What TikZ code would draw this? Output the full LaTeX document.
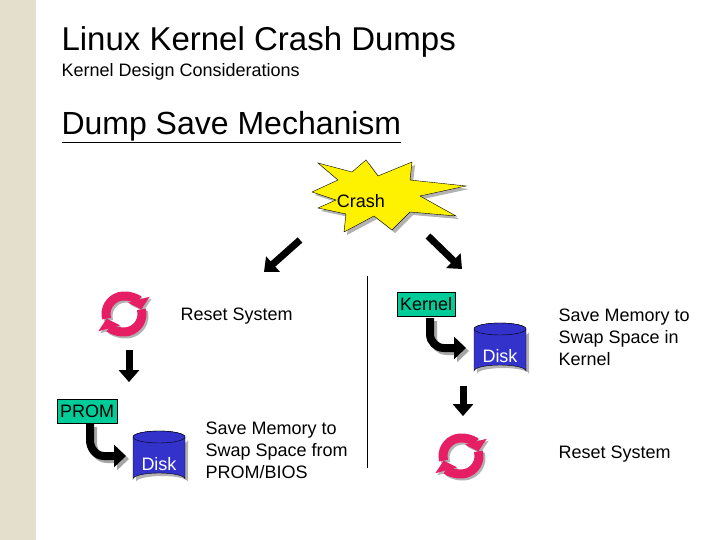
\documentclass[tikz,border=0pt]{standalone}
\usepackage{fontspec}
\setmainfont{Liberation Sans}
\usetikzlibrary{arrows.meta,shapes.geometric}
\definecolor{boxg}{RGB}{0,204,153}
\definecolor{diskb}{RGB}{51,51,204}
\definecolor{cyc}{RGB}{230,30,100}
\definecolor{strip}{RGB}{228,222,204}
\tikzset{
 lbl/.style={anchor=west,font=\fontsize{18}{22}\selectfont,align=left},
 gbox/.style={draw=black,fill=boxg,font=\fontsize{18}{21}\selectfont,inner sep=3pt,minimum height=24pt},
 fat/.style={line width=7pt,-{Triangle[length=12pt,width=20pt]}},
 shad/.style={gray!70},
}
\newcommand{\cyclepic}[2]{%
 \begin{scope}[shift={(#1,#2)}]
  \draw[gray!60,line width=9pt,-{Triangle[length=10pt,width=22pt]}] (2,2)++(165:18) arc (165:345:18);
  \draw[gray!60,line width=9pt,-{Triangle[length=10pt,width=22pt]}] (2,2)++(-15:18) arc (-15:165:18);
  \draw[cyc,line width=9pt,-{Triangle[length=10pt,width=22pt]}] (165:18) arc (165:345:18);
  \draw[cyc,line width=9pt,-{Triangle[length=10pt,width=22pt]}] (-15:18) arc (-15:165:18);
 \end{scope}}
\newcommand{\diskpic}[2]{%
 \begin{scope}[shift={(#1,#2)}]
  \fill[gray!60] (3,9) -- (3,51) arc (180:360:26 and 6) -- (55,9) arc (0:180:26 and 6) -- cycle;
  \fill[diskb,draw=black] (0,6) -- (0,48) arc (180:360:26 and 6) -- (52,6) arc (0:-180:26 and 6) -- cycle;
  \draw[black,fill=diskb] (26,6) ellipse (26 and 6);
 \end{scope}}
\begin{document}
\begin{tikzpicture}[x=1pt,y=-1pt]
\useasboundingbox (0,0) rectangle (720,540);
\fill[white] (0,0) rectangle (720,540);
\fill[strip] (0,0) rectangle (36,540);
\node[anchor=west,font=\fontsize{33}{38}\selectfont] (t) at (58,42) {Linux Kernel Crash Dumps};
\node[anchor=west,font=\fontsize{18}{21}\selectfont] (st) at (58,72) {Kernel Design Considerations};
\node[anchor=west,font=\fontsize{32}{36}\selectfont] (h) at (58,127) {\underline{Dump Save Mechanism}};
% crash
\fill[gray!60,shift={(3,3)}] (312,192) -- (338,180) -- (318,163) -- (352,172) -- (366,160) -- (378,176) -- (412,162) -- (410,180) -- (466,186) -- (420,196) -- (456,216) -- (410,212) -- (392,230) -- (374,216) -- (344,232) -- (346,214) -- (318,208) -- (336,200) -- cycle;
\draw[fill=yellow] (312,192) -- (338,180) -- (318,163) -- (352,172) -- (366,160) -- (378,176) -- (412,162) -- (410,180) -- (466,186) -- (420,196) -- (456,216) -- (410,212) -- (392,230) -- (374,216) -- (344,232) -- (346,214) -- (318,208) -- (336,200) -- cycle;
\node[font=\fontsize{18}{21}\selectfont] (crash) at (361,201) {Crash};
\coordinate (a1s) at (300,240); \coordinate (a1e) at (264,272);
\coordinate (a2s) at (428,236); \coordinate (a2e) at (462,269);
\draw[fat] (a1s) -- (a1e);
\draw[fat] (a2s) -- (a2e);
\coordinate (v1) at (367,276); \coordinate (v2) at (367,468);
\draw (v1) -- (v2);
% left
\cyclepic{124}{314}
\node[lbl] (rs1) at (177,316) {Reset System};
\coordinate (d1s) at (129,350); \coordinate (d1e) at (129,382);
\draw[shad,fat,shift={(2,2)}] (d1s) -- (d1e);
\draw[fat] (d1s) -- (d1e);
\node[gbox,anchor=north west] (prom) at (57,399) {PROM};
\draw[shad,line width=8pt,-{Triangle[length=12pt,width=22pt]},shift={(3,3)}] (90,424) -- (90,440) to[out=-90,in=180] (104,456) -- (126,456);
\draw[line width=8pt,-{Triangle[length=12pt,width=22pt]}] (90,424) -- (90,440) to[out=-90,in=180] (104,456) -- (126,456);
\diskpic{133}{431}
\node[font=\fontsize{18}{21}\selectfont,text=white] (disk1) at (159,464) {Disk};
\node[lbl] (sm1) at (202,450) {Save Memory to\\Swap Space from\\PROM/BIOS};
% right
\node[gbox,anchor=north west] (kern) at (397,292) {Kernel};
\draw[shad,line width=8pt,-{Triangle[length=12pt,width=22pt]},shift={(3,3)}] (430,318) -- (430,334) to[out=-90,in=180] (444,348) -- (466,348);
\draw[line width=8pt,-{Triangle[length=12pt,width=22pt]}] (430,318) -- (430,334) to[out=-90,in=180] (444,348) -- (466,348);
\diskpic{474}{323}
\node[font=\fontsize{18}{21}\selectfont,text=white] (disk2) at (500,356) {Disk};
\node[lbl] (sm2) at (555,337) {Save Memory to\\Swap Space in\\Kernel};
\coordinate (d2s) at (463,386); \coordinate (d2e) at (463,416);
\draw[shad,fat,shift={(2,2)}] (d2s) -- (d2e);
\draw[fat] (d2s) -- (d2e);
\cyclepic{461}{456}
\node[lbl] (rs2) at (555,454) {Reset System};
\end{tikzpicture}
\end{document}
